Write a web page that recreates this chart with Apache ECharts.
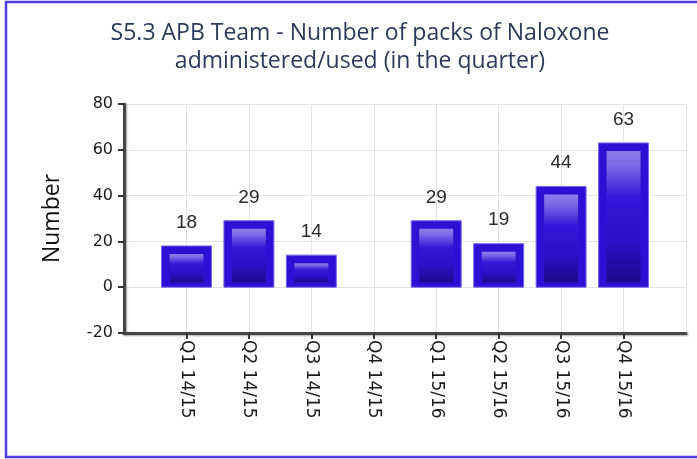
<!DOCTYPE html>
<html>
<head>
<meta charset="utf-8">
<script src="https://cdn.jsdelivr.net/npm/echarts@6/dist/echarts.min.js"></script>
<style>
  html, body { margin: 0; padding: 0; background: #fff; }
  #chart { width: 697px; height: 459px; }
</style>
</head>
<body>
<div id="chart"></div>
<script>
// Quarterly naloxone packs administered/used by the APB team
const chartTitle = 'S5.3 APB Team - Number of packs of Naloxone\nadministered/used (in the quarter)';
const yAxisName = 'Number';
const categories = ['Q1 14/15', 'Q2 14/15', 'Q3 14/15', 'Q4 14/15', 'Q1 15/16', 'Q2 15/16', 'Q3 15/16', 'Q4 15/16'];
const packs = [18, 29, 14, null, 29, 19, 44, 63];
const yTicks = { min: -20, max: 80, step: 20 };

// Empty slots at both ends leave a full band of room around the bars
const axisCats = [''].concat(categories, ['']);
const lastIdx = axisCats.length - 1;
const barData = categories
  .map((c, i) => [i + 1, packs[i]])
  .filter(d => d[1] !== null && d[1] !== undefined);

const chart = echarts.init(document.getElementById('chart'), null, { renderer: 'canvas' });

function renderBar(params, api) {
  const idx = api.value(0);
  const val = api.value(1);
  const top = api.coord([idx, val]);
  const base = api.coord([idx, 0]);
  const step = api.coord([1, 0])[0] - api.coord([0, 0])[0];
  const w = step * 0.8;
  const x0 = top[0] - w / 2;
  const h = base[1] - top[1];
  const innerTop = top[1] + 8;
  const innerH = Math.max(base[1] - 5 - innerTop, 0);
  return {
    type: 'group',
    children: [
      {
        type: 'rect',
        shape: { x: x0, y: top[1], width: w, height: h },
        style: { fill: '#2c10d4', stroke: '#7466ee', lineWidth: 1 }
      },
      {
        type: 'rect',
        shape: { x: x0 + 8, y: innerTop, width: w - 16, height: innerH },
        style: {
          fill: new echarts.graphic.LinearGradient(0, 0, 0, 1, [
            { offset: 0, color: '#8c7eea' },
            { offset: 0.12, color: '#7868e6' },
            { offset: 0.35, color: '#3418d8' },
            { offset: 0.7, color: '#2a10c6' },
            { offset: 1, color: '#1c0a8c' }
          ])
        }
      },
      {
        type: 'text',
        style: {
          text: String(val),
          x: top[0],
          y: top[1] - 14,
          align: 'center',
          verticalAlign: 'bottom',
          fontFamily: 'Liberation Sans, Arial, sans-serif',
          fontSize: 19,
          fill: '#2a2a2a'
        }
      }
    ]
  };
}

const axisLineStyle = {
  color: '#454545',
  width: 3,
  shadowColor: 'rgba(0,0,0,0.35)',
  shadowBlur: 2,
  shadowOffsetX: 1,
  shadowOffsetY: 1
};

chart.setOption({
  animation: false,
  backgroundColor: '#ffffff',
  title: {
    text: chartTitle,
    left: 355,
    top: 14,
    textAlign: 'center',
    textStyle: {
      fontFamily: 'Open Sans, sans-serif',
      fontSize: 23,
      fontWeight: 'normal',
      color: '#2c3a5a',
      lineHeight: 28
    }
  },
  graphic: [
    {
      type: 'rect',
      silent: true,
      shape: { x: 6, y: 2, width: 720, height: 455 },
      style: { fill: 'none', stroke: '#4c3de4', lineWidth: 2.5 }
    }
  ],
  grid: { left: 124, right: 11, top: 104, bottom: 126 },
  xAxis: {
    type: 'category',
    data: axisCats,
    boundaryGap: false,
    axisLine: { onZero: false, lineStyle: axisLineStyle },
    axisTick: {
      interval: (i) => i > 0 && i < lastIdx,
      length: 6,
      lineStyle: { color: '#333', width: 2 }
    },
    axisLabel: {
      interval: (i) => i > 0 && i < lastIdx,
      rotate: -90,
      margin: 7,
      fontFamily: 'DejaVu Sans, sans-serif',
      fontSize: 17,
      color: '#1a1a1a'
    },
    splitLine: {
      show: true,
      interval: (i) => i > 0,
      lineStyle: { color: '#e3e3e3', width: 1 }
    }
  },
  yAxis: {
    type: 'value',
    min: yTicks.min,
    max: yTicks.max,
    interval: yTicks.step,
    name: yAxisName,
    nameLocation: 'middle',
    nameRotate: 90,
    nameGap: 60,
    nameTextStyle: {
      fontFamily: 'Open Sans, sans-serif',
      fontSize: 23,
      color: '#111'
    },
    axisLine: { show: true, lineStyle: axisLineStyle },
    axisTick: { show: true, length: 6, lineStyle: { color: '#333', width: 2 } },
    axisLabel: {
      margin: 11,
      fontFamily: 'DejaVu Sans, sans-serif',
      fontSize: 16,
      color: '#1a1a1a'
    },
    splitLine: { show: true, lineStyle: { color: '#e3e3e3', width: 1 } }
  },
  series: [
    {
      type: 'custom',
      renderItem: renderBar,
      data: barData,
      encode: { x: 0, y: 1 },
      clip: false
    }
  ]
});
</script>
</body>
</html>
